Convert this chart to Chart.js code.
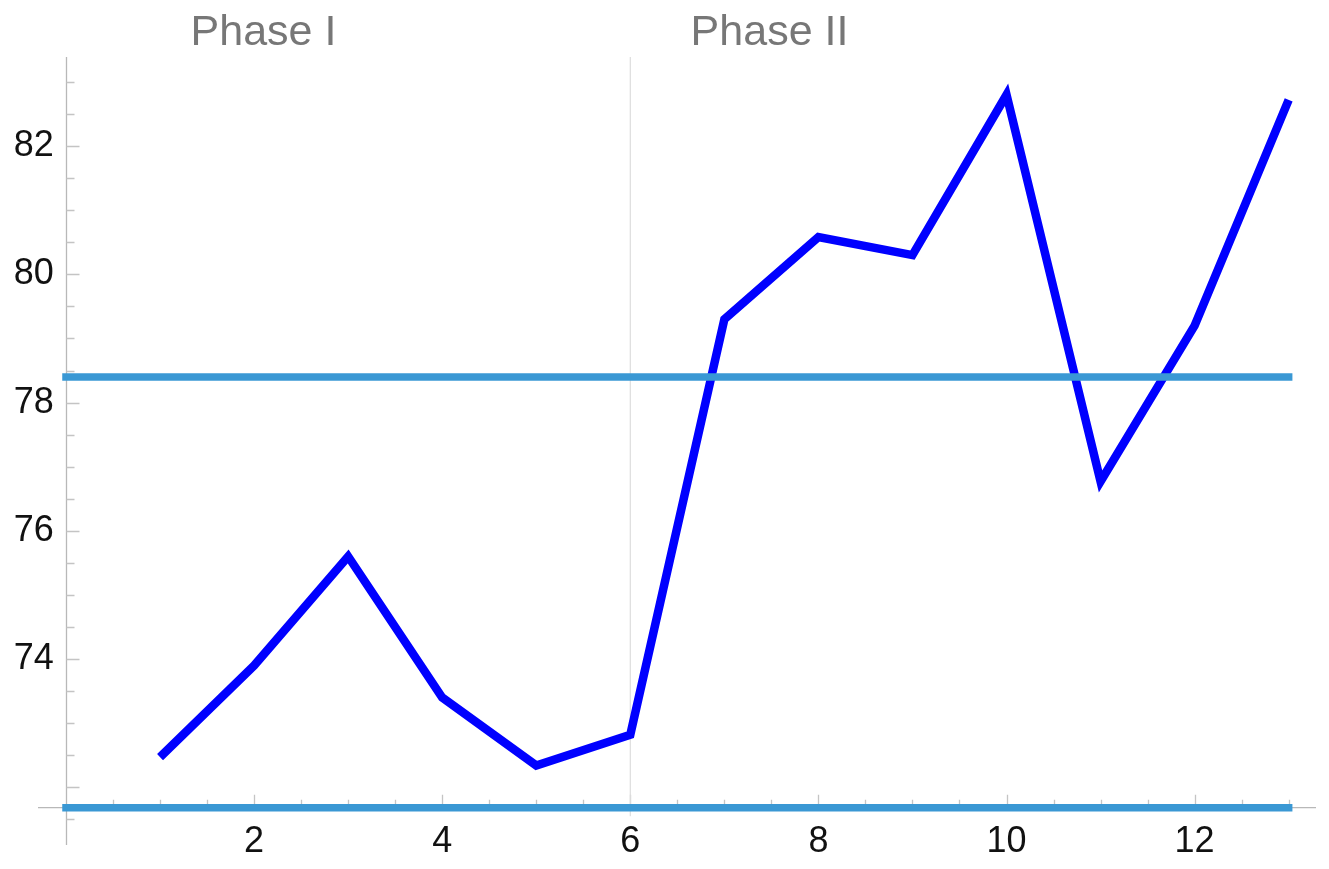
<!DOCTYPE html>
<html>
<head>
<meta charset="utf-8">
<script src="https://cdn.jsdelivr.net/npm/chart.js@4.4.1/dist/chart.umd.min.js"></script>
<style>
  html, body { margin: 0; padding: 0; background: #fff; }
  #wrap { width: 1329px; height: 869px; position: relative; }
</style>
</head>
<body>
<div id="wrap"><canvas id="phaseChart"></canvas></div>
<script>
// values
const samples = [1, 2, 3, 4, 5, 6, 7, 8, 9, 10, 11, 12, 13];
const measurements = [72.47, 73.9, 75.6, 73.4, 72.34, 72.82, 79.3, 80.58, 80.3, 82.8, 76.77, 79.2, 82.72];
const centerLine = 78.4;
const lowerLine = 71.68;
const phaseBoundary = 6;
const phaseNames = ['Phase I', 'Phase II'];
const phaseCenters = [2.1, 7.48];
const xTicks = [2, 4, 6, 8, 10, 12];
const yTicks = [74, 76, 78, 80, 82];

const lineStart = samples[0] - 1;
const lineEnd = samples[samples.length - 1];

// y axis line + inward tick marks like the original (major + minor every 0.5)
const axisMarks = {
    id: 'axisMarks',
    beforeDatasetsDraw(chart) {
        const ctx = chart.ctx;
        const xs = chart.scales.x, ys = chart.scales.y;
        const x0 = Math.round(xs.getPixelForValue(0)) + 0.5;
        const y0 = ys.getPixelForValue(lowerLine);
        ctx.save();
        ctx.strokeStyle = '#b8b8b8';
        ctx.lineWidth = 1.3;
        ctx.beginPath();
        ctx.moveTo(x0, ys.top);
        ctx.lineTo(x0, ys.bottom);
        ctx.stroke();

        ctx.strokeStyle = '#c4c4c4';
        ctx.beginPath();
        for (let v = 71.5; v <= 83; v += 0.5) {
            const len = (v % 2 === 0) ? 13 : 8;
            const py = Math.round(ys.getPixelForValue(v)) + 0.5;
            ctx.moveTo(x0, py);
            ctx.lineTo(x0 + len, py);
        }
        for (let v = 0.5; v <= 13; v += 0.5) {
            const len = (v % 2 === 0) ? 13 : 8;
            const px = Math.round(xs.getPixelForValue(v)) + 0.5;
            ctx.moveTo(px, y0);
            ctx.lineTo(px, y0 - len);
        }
        ctx.stroke();
        ctx.restore();
    },
    afterDraw(chart) {
        // phase titles
        const ctx = chart.ctx;
        const xs = chart.scales.x;
        ctx.save();
        ctx.fillStyle = '#777777';
        ctx.font = '43px "Liberation Sans", Arial, sans-serif';
        ctx.textAlign = 'center';
        ctx.textBaseline = 'alphabetic';
        phaseNames.forEach(function (name, i) {
            ctx.fillText(name, xs.getPixelForValue(phaseCenters[i]), 45);
        });
        ctx.restore();
    }
};

const ctx = document.getElementById('phaseChart').getContext('2d');
new Chart(ctx, {
    type: 'line',
    data: {
        datasets: [
            {
                data: [{ x: lineStart, y: centerLine }, { x: lineEnd, y: centerLine }],
                borderColor: '#3a98d4',
                borderWidth: 7.5,
                borderCapStyle: 'square',
                pointRadius: 0
            },
            {
                data: [{ x: lineStart, y: lowerLine }, { x: lineEnd, y: lowerLine }],
                borderColor: '#3a98d4',
                borderWidth: 7.5,
                borderCapStyle: 'square',
                pointRadius: 0
            },
            {
                data: samples.map((s, i) => ({ x: s, y: measurements[i] })),
                borderColor: '#0000ff',
                borderWidth: 8.5,
                borderJoinStyle: 'miter',
                pointRadius: 0,
                tension: 0
            },
            {
                data: [{ x: phaseBoundary, y: 83.45 }, { x: phaseBoundary, y: 71.55 }],
                borderColor: '#dddddd',
                borderWidth: 1.2,
                pointRadius: 0
            }
        ]
    },
    options: {
        responsive: true,
        maintainAspectRatio: false,
        animation: false,
        layout: { padding: { top: 57, bottom: 24, left: 39, right: 14 } },
        plugins: { legend: { display: false }, tooltip: { enabled: false } },
        scales: {
            x: {
                type: 'linear',
                min: -0.287,
                max: 13.28,
                position: { y: lowerLine },
                afterBuildTicks: (scale) => { scale.ticks = xTicks.map(v => ({ value: v })); },
                grid: { drawOnChartArea: false, drawTicks: true, tickLength: 3, tickColor: 'rgba(0,0,0,0)' },
                border: { display: true, color: '#b8b8b8', width: 1.3 },
                ticks: {
                    color: '#111',
                    padding: 10,
                    maxRotation: 0,
                    font: { family: '"Liberation Sans", Arial, sans-serif', size: 36 }
                }
            },
            y: {
                type: 'linear',
                min: 71.1,
                max: 83.39,
                // labels are right-aligned on this position, a bit left of x = 0
                position: { x: -0.13 },
                afterBuildTicks: (scale) => { scale.ticks = yTicks.map(v => ({ value: v })); },
                afterFit: (scale) => { scale.paddingTop = 0; scale.paddingBottom = 0; },
                grid: { drawOnChartArea: false, drawTicks: false },
                border: { display: false },
                ticks: {
                    color: '#111',
                    padding: 0,
                    font: { family: '"Liberation Sans", Arial, sans-serif', size: 36 }
                }
            }
        }
    },
    plugins: [axisMarks]
});
</script>
</body>
</html>
